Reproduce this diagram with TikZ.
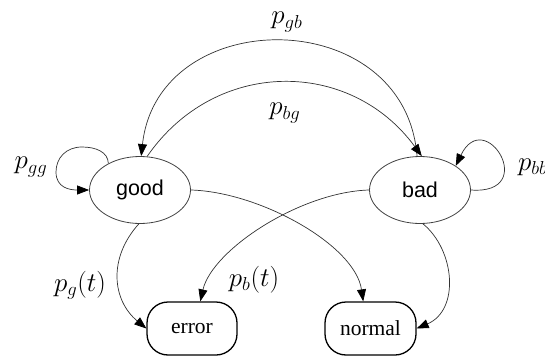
\documentclass[tikz,border=0pt]{standalone}
\usepackage{fontspec}
\newfontfamily\statefont{Liberation Sans}
\newfontfamily\endfont{Liberation Serif}
\usetikzlibrary{shapes.geometric,arrows.meta}

% probability labels: math set at a size the CM fonts provide, then enlarged
\newcommand{\probtext}[1]{\scalebox{1.3}{\fontsize{20.74}{25}\selectfont$#1$}}

\tikzset{
  state/.style={ellipse, draw=black!75, line width=0.8pt, minimum width=101pt,
    minimum height=67pt, inner sep=0pt, font=\statefont\fontsize{21.5}{26}\selectfont},
  outcome/.style={rectangle, rounded corners=21pt, draw=black, line width=1.3pt,
    minimum width=90pt, minimum height=53pt, inner sep=0pt,
    font=\endfont\fontsize{21.5}{26}\selectfont},
  edge/.style={draw=black!80, line width=0.7pt,
    -{Triangle[length=12pt,width=9pt,color=black]}},
  prob/.style={inner sep=0pt}
}

\begin{document}
\begin{tikzpicture}[x=1pt, y=-1pt]
  \useasboundingbox (0,0) rectangle (545,358);
  \clip (0,0) rectangle (545,358);

  % states and outcomes
  \node[state] (good) at (140,190) {good};
  \node[state] (bad)  at (420,190) {bad};
  \node[outcome] (error)  at (192,328.5) {error};
  \node[outcome, minimum width=91pt] (normal) at (370.5,328.5) {normal};

  % transitions between the two states
  \draw[edge] (bad.95) .. controls (405,3) and (158,3) .. (good.88);
  \draw[edge] (good.78) .. controls (215,58) and (350,58) .. (bad.87);

  % self loops
  \draw[edge] (good.140) .. controls (108,152) and (96,147) .. (82,147)
                         .. controls (66,147) and (56,158) .. (56,172)
                         .. controls (56,188) and (70,190) .. (good.west);
  \draw[edge] (bad.east) .. controls (540,195) and (485,105) .. (bad.34);

  % emissions
  \draw[edge] (good.-92) .. controls (108,258) and (112,300) .. (error.west);
  \draw[edge] (bad.west) .. controls (300,192) and (212,250) .. (error.73);
  \draw[edge] (good.east) .. controls (260,192) and (355,245) .. (normal.105);
  \draw[edge] (bad.-85) .. controls (455,250) and (460,310) .. (normal.east);

  % probabilities
  \node[prob] (lgb) at (287,22) {\probtext{p_{gb}}};
  \node[prob] (lbg) at (285,113) {\probtext{p_{bg}}};
  \node[prob] (lgg) at (31,167) {\probtext{p_{gg}}};
  \node[prob, anchor=west] (lbb) at (518,167) {\probtext{p_{bb}}};
  \node[prob] (lgt) at (80,285) {\probtext{p_g(t)}};
  \node[prob] (lbt) at (254,280) {\probtext{p_b(t)}};
\end{tikzpicture}
\end{document}
